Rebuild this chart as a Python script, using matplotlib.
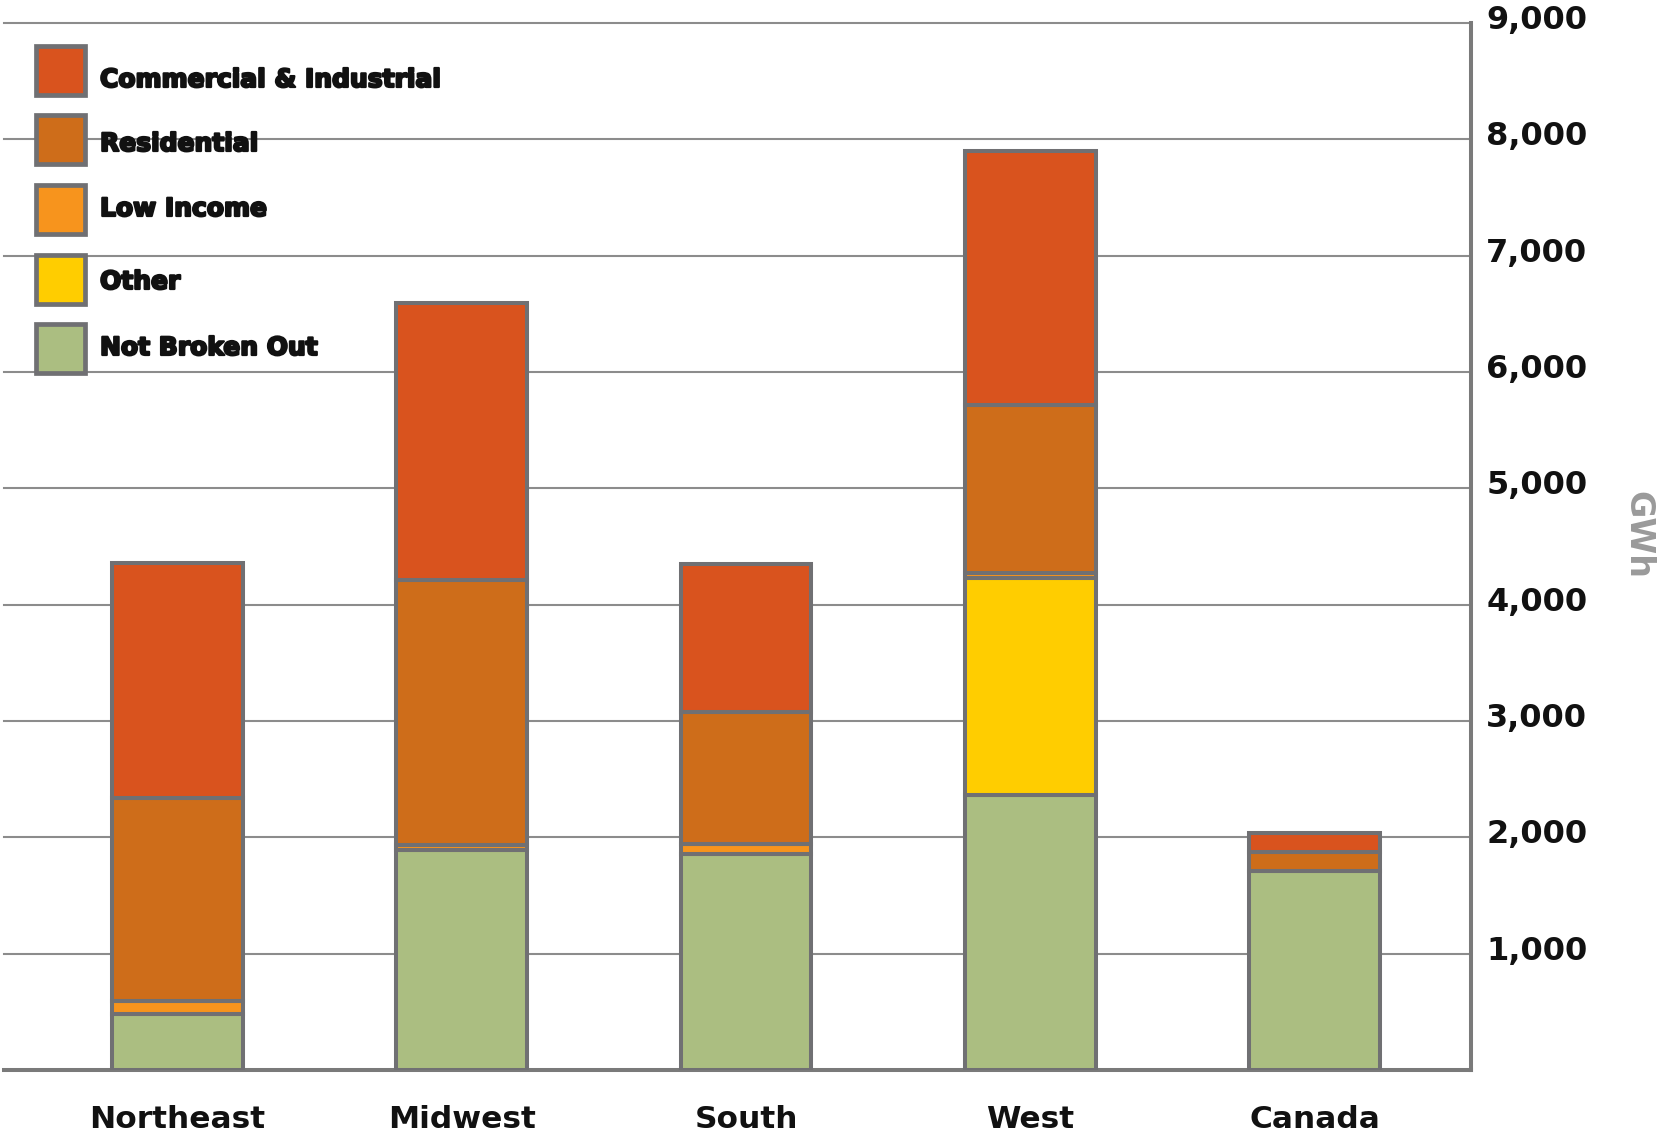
import matplotlib
matplotlib.use("Agg")
import matplotlib.pyplot as plt
from matplotlib.patches import Rectangle
from matplotlib.transforms import Affine2D, ScaledTranslation
import matplotlib.patheffects as pe
import numpy as np

regions = ["Northeast", "Midwest", "South", "West", "Canada"]
not_broken_out = [480, 1890, 1860, 2360, 1710]
other = [0, 0, 0, 1870, 0]
low_income = [110, 40, 80, 45, 0]
residential = [1750, 2280, 1140, 1445, 160]
commercial_industrial = [2020, 2380, 1270, 2180, 170]
ytick_values = [1000, 2000, 3000, 4000, 5000, 6000, 7000, 8000, 9000]
ytick_labels = ["1,000", "2,000", "3,000", "4,000", "5,000", "6,000", "7,000", "8,000", "9,000"]

series = [
    ("Not Broken Out", not_broken_out, "#ABBE81"),
    ("Other", other, "#FFCD00"),
    ("Low Income", low_income, "#F7941D"),
    ("Residential", residential, "#CE6D1A"),
    ("Commercial & Industrial", commercial_industrial, "#D9531E"),
]
legend_order = ["Commercial & Industrial", "Residential", "Low Income", "Other", "Not Broken Out"]

W, H = 1660, 1138
fig = plt.figure(figsize=(W / 100, H / 100), dpi=100)
ax = fig.add_axes([4 / W, 1 - 1070 / H, (1471 - 4) / W, (1070 - 23) / H])

edge = "#707073"
x = np.arange(len(regions))
bottom = np.zeros(len(regions))
for name, vals, col in series:
    v = np.array(vals, dtype=float)
    m = v > 0
    ax.bar(x[m], v[m], bottom=bottom[m], width=0.46, color=col, edgecolor=edge,
           linewidth=2.9, zorder=3)
    bottom += v

ax.set_xlim(-0.61, 4.55)
ax.set_ylim(0, 9000)
ax.set_yticks(ytick_values)
ax.set_yticklabels(ytick_labels)
ax.yaxis.tick_right()
ax.tick_params(axis="y", length=0, pad=11, labelsize=23)
ax.set_xticks(x)
ax.set_xticklabels(regions)
ax.tick_params(axis="x", length=0, pad=25, labelsize=22.5)
for lab in ax.get_yticklabels() + ax.get_xticklabels():
    lab.set_fontweight("bold")
    lab.set_color("#111111")
for lab in ax.get_yticklabels():
    lab.set_transform(lab.get_transform() + ScaledTranslation(0, 6 / 100, fig.dpi_scale_trans))

ax.grid(axis="y", color="#8C8C8C", linewidth=1.5, zorder=0)
ax.set_axisbelow(True)
for gl in ax.get_ygridlines():
    gl.set_clip_on(False)
ax.spines["left"].set_visible(False)
ax.spines["top"].set_visible(False)
for s in ("right", "bottom"):
    ax.spines[s].set_color("#7A7A7A")
    ax.spines[s].set_linewidth(2.9)

# legend (pixel placement)
px = Affine2D().scale(1 / W, -1 / H).translate(0, 1) + fig.transFigure
colors = {n: c for n, _, c in series}
sq_tops = [43, 112, 182, 252, 321]
txt_y = [80, 144, 209, 282, 348]
for name, top, ty in zip(legend_order, sq_tops, txt_y):
    fig.add_artist(Rectangle((35.5, top + 2.5), 49, 49, transform=px, facecolor=colors[name],
                             edgecolor=edge, linewidth=3.4, zorder=5))
    fig.text(100, ty, name, transform=px, fontsize=18, fontweight="bold", color="#111111",
             va="center", ha="left", zorder=6,
             path_effects=[pe.withStroke(linewidth=1.6, foreground="#111111")])

fig.text(1638, 535, "GWh", transform=px, rotation=-90, fontsize=24, fontweight="bold",
         color="#9A9A9A", ha="center", va="center")

fig.savefig("out.png", dpi=100)
